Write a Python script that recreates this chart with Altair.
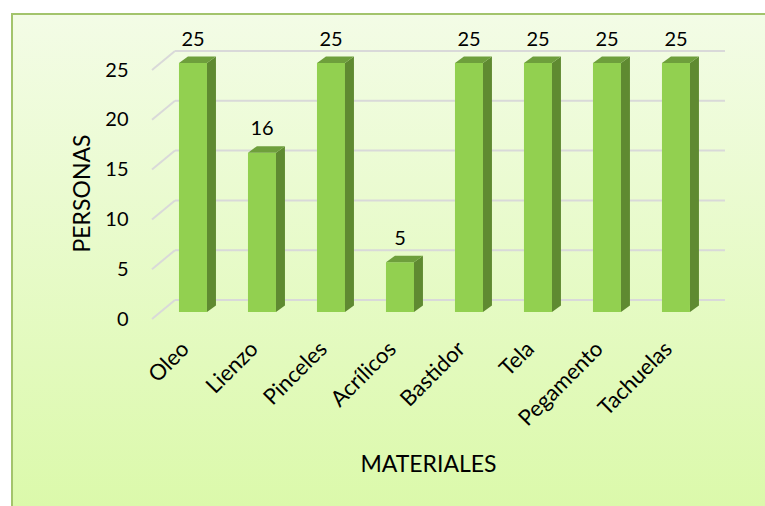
import json
import altair as alt
import pandas as pd

# ---- data ----
categories = ["Oleo", "Lienzo", "Pinceles", "Acrílicos", "Bastidor", "Tela", "Pegamento", "Tachuelas"]
values = [25, 16, 25, 5, 25, 25, 25, 25]
y_ticks = [0, 5, 10, 15, 20, 25]
x_title = "MATERIALES"
y_title = "PERSONAS"

# ---- 3D look parameters (in data units) ----
HALF = 0.203     # half width of bar front face (category units)
DEPTH_X = 0.13   # horizontal depth of bar
DEPTH_Y = 0.65   # vertical depth of bar

FONT = "Lato"
FRONT = "#92D050"
SIDE = "#5F8A31"
TOP = "#6E9F3C"
GRID = "#D9D9D9"

bars = pd.DataFrame({"cat": categories, "value": values, "idx": list(range(len(categories)))})
corners = bars.merge(pd.DataFrame({"k": [0, 1]}), how="cross")
ticks = pd.DataFrame({"v": y_ticks})

xs = alt.Scale(domain=[-0.594, 7.928], nice=False, zero=False)
ys = alt.Scale(domain=[0, 25], nice=False, zero=True)

label_expr = json.dumps(categories) + "[datum.value]"

x_axis = alt.Axis(
    values=list(range(len(categories))), labelExpr=label_expr,
    title=x_title, titleFont=FONT, titleFontSize=23, titleFontWeight="normal",
    titleColor="black", titleX=276, titleY=152, titleBaseline="alphabetic",
    titleAnchor="start", titleAlign="center",
    labelAngle=-45, labelAlign="right", labelBaseline="middle",
    labelFont=FONT, labelFontSize=22, labelColor="black",
    labelPadding=26, labelOffset=-8, labelOverlap=False, labelFlush=False,
    labelBound=False, ticks=False, tickSize=0, domain=False, grid=False, zindex=1)
y_axis = alt.Axis(
    values=y_ticks, title=y_title, titleFont=FONT, titleFontSize=23,
    titleFontWeight="normal", titleColor="black", titleAngle=-90,
    titleX=-63, titleY=123, titleBaseline="alphabetic", titleAlign="center",
    labelFont=FONT, labelFontSize=20, labelColor="black", labelPadding=24,
    labelFlush=False, labelOverlap=False,
    ticks=False, tickSize=0, domain=False, grid=False, zindex=1)

# background panel with gradient
bg = alt.Chart(alt.Data(values=[{"a": 1}])).mark_rect(
    fill=alt.LinearGradient(
        gradient="linear",
        stops=[alt.GradientStop(color="#F3FCE6", offset=0),
               alt.GradientStop(color="#DAF9A8", offset=1)],
        x1=0, x2=0, y1=0, y2=1),
    stroke="#A3C46C", strokeWidth=2,
).encode(x=alt.value(-140), x2=alt.value(640), y=alt.value(-56), y2=alt.value(460))

# gridlines: slanted floor part + back wall part
grid_slant = alt.Chart(ticks).mark_rule(color=GRID, strokeWidth=2, y2Offset=-19).encode(
    x=alt.value(0), x2=alt.value(23),
    y=alt.Y("v:Q", scale=ys, axis=y_axis), y2="v:Q")
grid_back = alt.Chart(ticks).mark_rule(color=GRID, strokeWidth=2, yOffset=-19).encode(
    x=alt.value(23), x2=alt.value(573),
    y=alt.Y("v:Q", scale=ys, axis=y_axis))

# front faces
front = alt.Chart(bars).transform_calculate(
    x0=f"datum.idx - {HALF}", x1=f"datum.idx + {HALF}", zero="0"
).mark_rect(color=FRONT, yOffset=-7, y2Offset=-7).encode(
    x=alt.X("x0:Q", scale=xs, axis=x_axis),
    x2="x1:Q",
    y=alt.Y("value:Q", scale=ys, axis=y_axis),
    y2="zero:Q",
)

# side faces
side = alt.Chart(corners).transform_calculate(
    sx=f"datum.idx + {HALF} + datum.k * {DEPTH_X}",
    sy=f"datum.value + datum.k * {DEPTH_Y}",
    sy2=f"datum.k * {DEPTH_Y}",
).mark_area(color=SIDE, orient="vertical", yOffset=-7, y2Offset=-7).encode(
    x=alt.X("sx:Q", scale=xs, axis=x_axis),
    y=alt.Y("sy:Q", scale=ys, axis=y_axis),
    y2="sy2:Q",
    detail="cat:N",
)

# top faces
top = alt.Chart(corners).transform_calculate(
    ty=f"datum.value + datum.k * {DEPTH_Y}",
    tx=f"datum.idx - {HALF} + datum.k * {DEPTH_X}",
    tx2=f"datum.idx + {HALF} + datum.k * {DEPTH_X}",
).mark_area(color=TOP, orient="horizontal", yOffset=-7, y2Offset=-7).encode(
    y=alt.Y("ty:Q", scale=ys, axis=y_axis),
    x=alt.X("tx:Q", scale=xs, axis=x_axis),
    x2="tx2:Q",
    detail="cat:N",
)

labels = alt.Chart(bars).mark_text(
    font=FONT, fontSize=20, color="black", baseline="alphabetic", align="center", dy=-24.5
).encode(
    x=alt.X("idx:Q", scale=xs, axis=x_axis),
    y=alt.Y("value:Q", scale=ys, axis=y_axis),
    text="value:Q",
)

chart = alt.layer(bg, grid_slant, grid_back, front, side, top, labels).properties(
    width=588, height=249,
    padding={"left": 152, "top": 70, "right": 25, "bottom": 187},
    autosize=alt.AutoSizeParams(type="none"),
    background="white",
).configure_view(stroke=None)

chart.save("out.html", embed_options={"renderer": "svg", "actions": False})
